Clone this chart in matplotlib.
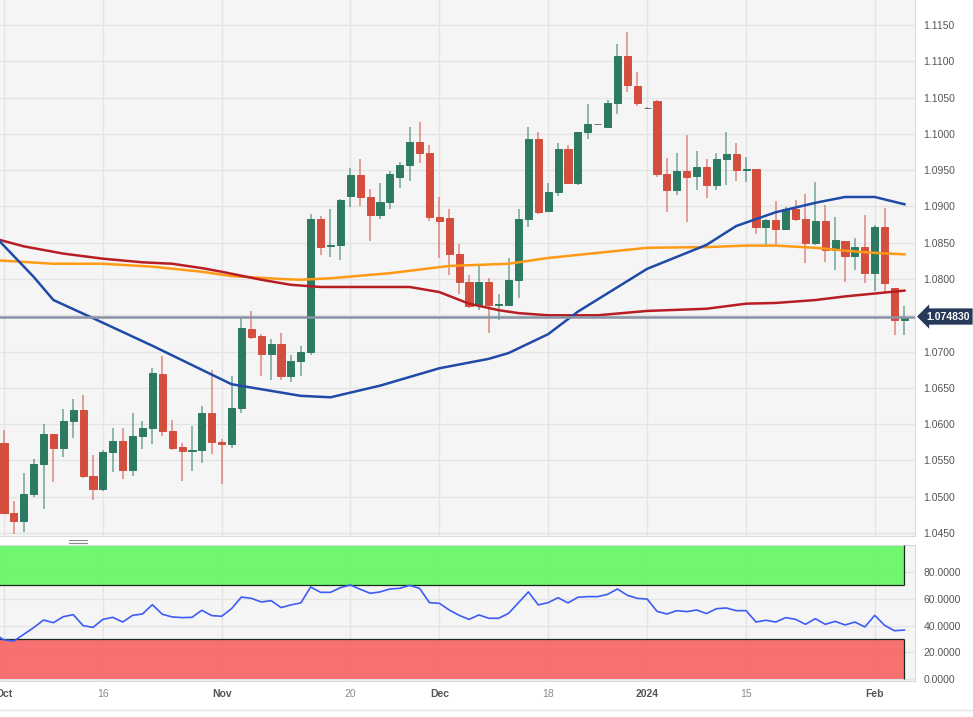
import numpy as np
import pandas as pd
import matplotlib
matplotlib.use('Agg')
import matplotlib.pyplot as plt
from matplotlib.lines import Line2D
from matplotlib.patches import Rectangle
from matplotlib.transforms import blended_transform_factory

# EUR/USD daily, 2 Oct 2023 - 6 Feb 2024 (FX calendar: every weekday)
dates = pd.bdate_range('2023-10-02', '2024-02-06')

opens = [1.0574, 1.0478, 1.0467, 1.0504, 1.0545, 1.0586, 1.0567, 1.0605, 1.0620, 1.0529,
	1.0511, 1.0561, 1.0577, 1.0537, 1.0583, 1.0594, 1.0669, 1.0590, 1.0569, 1.0563,
	1.0565, 1.0615, 1.0575, 1.0572, 1.0622, 1.0731, 1.0721, 1.0697, 1.0711, 1.0666,
	1.0687, 1.0700, 1.0883, 1.0845, 1.0847, 1.0914, 1.0943, 1.0913, 1.0888, 1.0906,
	1.0940, 1.0957, 1.0989, 1.0973, 1.0886, 1.0884, 1.0834, 1.0796, 1.0764, 1.0796,
	1.0764, 1.0764, 1.0798, 1.0882, 1.0993, 1.0894, 1.0920, 1.0979, 1.0932, 1.1003,
	1.1013, 1.1010, 1.1043, 1.1107, 1.1066, 1.1036, 1.1045, 1.0944, 1.0922, 1.0949,
	1.0942, 1.0954, 1.0929, 1.0966, 1.0972, 1.0950, 1.0951, 1.0872, 1.0881, 1.0869,
	1.0897, 1.0883, 1.0850, 1.0880, 1.0840, 1.0853, 1.0832, 1.0844, 1.0808, 1.0871,
	1.0787, 1.0744]
highs = [1.0592, 1.0494, 1.0533, 1.0552, 1.0600, 1.0586, 1.0621, 1.0635, 1.0640, 1.0558,
	1.0564, 1.0595, 1.0594, 1.0616, 1.0604, 1.0678, 1.0694, 1.0606, 1.0574, 1.0597,
	1.0625, 1.0675, 1.0580, 1.0667, 1.0746, 1.0756, 1.0724, 1.0717, 1.0726, 1.0695,
	1.0707, 1.0889, 1.0887, 1.0897, 1.0910, 1.0953, 1.0966, 1.0924, 1.0932, 1.0949,
	1.0961, 1.1010, 1.1017, 1.0984, 1.0913, 1.0897, 1.0848, 1.0806, 1.0818, 1.0802,
	1.0780, 1.0829, 1.0897, 1.1010, 1.1003, 1.0932, 1.0988, 1.0985, 1.1003, 1.1041,
	1.1014, 1.1047, 1.1124, 1.1140, 1.1085, 1.1037, 1.1046, 1.0967, 1.0973, 1.0999,
	1.0977, 1.0965, 1.0973, 1.1003, 1.0987, 1.0968, 1.0952, 1.0883, 1.0907, 1.0899,
	1.0909, 1.0917, 1.0933, 1.0902, 1.0886, 1.0853, 1.0857, 1.0888, 1.0875, 1.0898,
	1.0787, 1.0763]
lows = [1.0476, 1.0448, 1.0451, 1.0500, 1.0483, 1.0520, 1.0555, 1.0581, 1.0526, 1.0496,
	1.0508, 1.0534, 1.0524, 1.0529, 1.0566, 1.0572, 1.0583, 1.0565, 1.0522, 1.0535,
	1.0547, 1.0559, 1.0518, 1.0567, 1.0615, 1.0717, 1.0666, 1.0661, 1.0661, 1.0658,
	1.0666, 1.0695, 1.0833, 1.0831, 1.0826, 1.0899, 1.0901, 1.0853, 1.0883, 1.0896,
	1.0926, 1.0935, 1.0960, 1.0880, 1.0829, 1.0806, 1.0780, 1.0760, 1.0757, 1.0725,
	1.0743, 1.0763, 1.0774, 1.0872, 1.0890, 1.0892, 1.0915, 1.0931, 1.0930, 1.0993,
	1.1012, 1.1009, 1.1028, 1.1057, 1.1038, 1.1035, 1.0941, 1.0893, 1.0916, 1.0878,
	1.0922, 1.0911, 1.0923, 1.0930, 1.0935, 1.0933, 1.0862, 1.0844, 1.0847, 1.0867,
	1.0880, 1.0822, 1.0847, 1.0823, 1.0812, 1.0796, 1.0812, 1.0794, 1.0783, 1.0781,
	1.0723, 1.0723]
closes = [1.0478, 1.0467, 1.0504, 1.0545, 1.0586, 1.0567, 1.0605, 1.0620, 1.0529, 1.0511,
	1.0561, 1.0577, 1.0537, 1.0583, 1.0594, 1.0670, 1.0590, 1.0567, 1.0563, 1.0564,
	1.0615, 1.0576, 1.0572, 1.0622, 1.0732, 1.0720, 1.0697, 1.0711, 1.0666, 1.0687,
	1.0700, 1.0883, 1.0844, 1.0847, 1.0909, 1.0943, 1.0913, 1.0888, 1.0906, 1.0945,
	1.0957, 1.0989, 1.0973, 1.0886, 1.0880, 1.0834, 1.0796, 1.0763, 1.0796, 1.0764,
	1.0766, 1.0798, 1.0882, 1.0993, 1.0893, 1.0920, 1.0979, 1.0932, 1.1003, 1.1013,
	1.1013, 1.1043, 1.1107, 1.1067, 1.1042, 1.1036, 1.0944, 1.0922, 1.0949, 1.0940,
	1.0954, 1.0929, 1.0966, 1.0972, 1.0950, 1.0951, 1.0872, 1.0881, 1.0869, 1.0896,
	1.0883, 1.0850, 1.0880, 1.0840, 1.0854, 1.0832, 1.0844, 1.0808, 1.0871, 1.0794,
	1.0744, 1.0748]

last_price = 1.074830

# moving averages at a few candles
ma50_idx = [-1, 3, 5, 9, 15, 23, 30, 33, 38, 44, 49, 51, 55, 58, 65, 71, 74, 78, 82, 85, 88, 91]
ma50_val = [1.0860, 1.0803, 1.0771, 1.0746, 1.0708, 1.0655, 1.0639, 1.0637, 1.0653, 1.0677, 1.0690,
	1.0698, 1.0724, 1.0755, 1.0814, 1.0847, 1.0873, 1.0892, 1.0905, 1.0913, 1.0913, 1.0903]
ma100_idx = [-1, 2, 6, 10, 14, 17, 20, 22, 26, 29, 32, 35, 41, 44, 47, 50, 52, 55, 60, 65, 71, 75, 78, 82, 85, 88, 91]
ma100_val = [1.0856, 1.0845, 1.0835, 1.0828, 1.0823, 1.0821, 1.0815, 1.0810, 1.0799, 1.0792, 1.0789,
	1.0789, 1.0789, 1.0782, 1.0766, 1.0757, 1.0753, 1.0750, 1.0750, 1.0756, 1.0759, 1.0766, 1.0767,
	1.0771, 1.0776, 1.0780, 1.0784]
ma200_idx = [-1, 5, 10, 15, 20, 23, 28, 30, 33, 39, 45, 51, 55, 60, 65, 71, 75, 78, 82, 85, 88, 91]
ma200_val = [1.0826, 1.0821, 1.0821, 1.0817, 1.0810, 1.0804, 1.0800, 1.0799, 1.0801, 1.0808, 1.0818,
	1.0821, 1.0829, 1.0836, 1.0843, 1.0844, 1.0846, 1.0846, 1.0843, 1.0839, 1.0836, 1.0834]

# RSI(14), one value per candle, starting one candle before the first visible one
rsi_idx = list(range(-1, 92))
rsi_val = [34.0, 29.2, 28.4, 33.4, 38.4, 44.1, 42.1, 46.6, 48.1, 39.9, 38.6,
	44.6, 46.1, 42.6, 47.6, 48.6, 55.6, 48.4, 46.4, 45.9, 46.1,
	51.4, 47.4, 46.9, 52.6, 61.3, 60.3, 57.6, 58.6, 53.4, 55.4,
	56.9, 68.8, 64.8, 64.8, 68.3, 70.3, 67.1, 64.1, 65.1, 67.3,
	67.8, 70.0, 67.8, 57.1, 56.6, 51.6, 47.6, 44.6, 47.9, 45.4,
	45.4, 49.1, 57.1, 65.1, 55.4, 57.1, 60.8, 56.9, 61.1, 61.6,
	61.6, 63.3, 67.3, 62.6, 60.3, 59.8, 50.6, 48.6, 51.1, 50.4,
	51.6, 48.9, 52.6, 53.1, 51.1, 51.1, 42.6, 43.9, 42.6, 45.9,
	44.6, 40.9, 45.1, 40.9, 43.1, 40.4, 42.6, 38.9, 47.6, 40.1,
	36.1, 36.6]

tick_dates = ['2023-10-02', '2023-10-16', '2023-11-01', '2023-11-20', '2023-12-01',
	'2023-12-18', '2024-01-01', '2024-01-15', '2024-02-01']
tick_labels = ['Oct', '16', 'Nov', '20', 'Dec', '18', '2024', '15', 'Feb']
bold_labels = ['Oct', 'Nov', 'Dec', '2024', 'Feb']

price_ticks = [1.045, 1.05, 1.055, 1.06, 1.065, 1.07, 1.075, 1.08, 1.085, 1.09, 1.095, 1.10, 1.105, 1.11, 1.115]
rsi_ticks = [0, 20, 40, 60, 80]

GREEN = '#2c7a62'
RED = '#d44e3e'
GREY = '#6f6f6f'
PANEL = '#f5f5f5'
GRID = '#e4e4e4'
EDGE = '#d6dce6'

plt.rcParams['font.family'] = ['Liberation Sans', 'DejaVu Sans']

W, H = 973, 717
XMIN, XMAX = -0.4, 92.07


def style_panel(ax):
	ax.set_facecolor(PANEL)
	ax.set_xlim(XMIN, XMAX)
	ax.yaxis.tick_right()
	ax.tick_params(axis='both', length=0, labelsize=7.5, labelcolor='#555555')
	ax.tick_params(axis='y', pad=6)
	ax.set_xticks(tick_pos)
	ax.grid(True, color=GRID, lw=1)
	ax.set_axisbelow(True)
	for s in ['top', 'left']:
		ax.spines[s].set_visible(False)
	for s in ['right', 'bottom']:
		ax.spines[s].set_color(EDGE)


def draw_candles(ax):
	x = np.arange(len(dates))
	o = np.array(opens)
	c = np.array(closes)
	cols = np.where(c > o, GREEN, np.where(c < o, RED, GREY))
	ax.vlines(x, lows, highs, colors=cols, lw=1.1, alpha=0.65, zorder=3)
	ax.bar(x, c - o, bottom=o, width=0.72, color=cols, edgecolor=cols, linewidth=0.7, zorder=4)


fig = plt.figure(figsize=(W / 100, H / 100), dpi=100)
tick_pos = [dates.get_loc(pd.Timestamp(d)) for d in tick_dates]

# main price panel: y from 0 to 536 px
ax = fig.add_axes([0, 1 - 536 / H, 915 / W, 536 / H])
style_panel(ax)
ax.set_ylim(1.0450 - 3 / 7258, 1.1150 + 25 / 7258)
ax.set_yticks(price_ticks)
ax.set_yticklabels(['' if abs(p - 1.075) < 1e-9 else '%.4f' % p for p in price_ticks])
ax.set_xticklabels([])

draw_candles(ax)
ax.plot(ma200_idx, ma200_val, color='#ff9a14', lw=1.8, zorder=5)
ax.plot(ma100_idx, ma100_val, color='#b81d24', lw=1.8, zorder=5)
ax.plot(ma50_idx, ma50_val, color='#1f4aa8', lw=1.8, zorder=5)
ax.axhline(last_price, color='#8893a6', lw=1.8, zorder=6)

tr = blended_transform_factory(ax.transAxes, ax.transData)
ax.text(1.0 + 11 / 915, last_price, '%.6f' % last_price, transform=tr, ha='left', va='center',
	fontsize=7.5, fontweight='bold', color='white', zorder=10, clip_on=False,
	bbox=dict(boxstyle='larrow,pad=0.3', fc='#26395a', ec='none'))

# RSI panel: y from 545 to 681 px
ax2 = fig.add_axes([0, (H - 681) / H, 915 / W, 136 / H])
style_panel(ax2)
ax2.spines['top'].set_visible(True)
ax2.spines['top'].set_color(EDGE)
ax2.set_ylim(-1.5, 100.2)
ax2.set_yticks(rsi_ticks)
ax2.set_yticklabels(['%.4f' % v for v in rsi_ticks])
ax2.set_xticklabels(tick_labels)
ax2.tick_params(axis='x', pad=6)
for lab in ax2.get_xticklabels():
	if lab.get_text() in bold_labels:
		lab.set_fontweight('bold')
		lab.set_color('#555555')
	else:
		lab.set_color('#8a8a8a')

end = len(dates) - 1
ax2.add_patch(Rectangle((XMIN - 1, 70), end - XMIN + 1, 30, fc='#5ef75e', alpha=0.88, ec='none', zorder=2))
ax2.add_patch(Rectangle((XMIN - 1, 0), end - XMIN + 1, 30, fc='#f85f5f', alpha=0.88, ec='none', zorder=2))
ax2.hlines([70, 30], XMIN - 1, end, colors='#1b2a1b', lw=0.9, zorder=3)
ax2.vlines(end, 70, 100, colors='#1b2a1b', lw=0.9, zorder=3)
ax2.vlines(end, 0, 30, colors='#1b2a1b', lw=0.9, zorder=3)
ax2.plot(rsi_idx, rsi_val, color='#3d5cf5', lw=1.2, zorder=4)

# little drag handle between the panels and the bottom rule
for yy in [539.5, 542.5]:
	fig.add_artist(Line2D([69 / W, 87 / W], [1 - yy / H, 1 - yy / H], color='#8c8c8c', lw=0.8))
fig.add_artist(Line2D([0, 1], [1 - 710 / H, 1 - 710 / H], color='#e2e5eb', lw=1))

fig.savefig('out.png', dpi=100, facecolor='white')
